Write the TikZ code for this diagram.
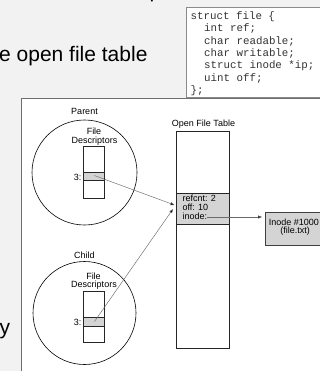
\documentclass[tikz,border=0pt]{standalone}
\usepackage{fontspec}
\setmainfont{Liberation Sans}
\newfontfamily\codefont{Liberation Mono}
\usetikzlibrary{arrows.meta}
\definecolor{bg}{HTML}{F2F2F2}
\definecolor{cellgray}{HTML}{D4D4D4}
\definecolor{panelline}{HTML}{6E6E6E}
\definecolor{codeline}{HTML}{8A8A8A}
\definecolor{linkgray}{HTML}{6A6A6A}
\tikzset{
  lbl/.style={font=\fontsize{9}{9}\selectfont, inner sep=0pt},
  big/.style={font=\fontsize{21}{21}\selectfont, inner sep=0pt},
  code/.style={font=\codefont\fontsize{10.8}{11}\selectfont, inner sep=0pt, text=black!80},
  thinbox/.style={draw=black!85, line width=0.6pt},
  link/.style={draw=linkgray, line width=0.45pt, -{Triangle[length=4pt,width=3pt,fill=black]}},
}
\begin{document}
\begin{tikzpicture}[x=1pt,y=-1pt]
\useasboundingbox (0,0) rectangle (320,371);
\clip (0,0) rectangle (320,371);
\fill[bg] (0,0) rectangle (320,371);
% slide text fragments
\node[big, anchor=base west] (ptxt) at (149.5,-2.6) {p};
\node[big, anchor=base west] (title) at (-1,62) {e open file table};
\node[big, anchor=base west] (ytxt) at (-0.5,334) {y};
% panel
\draw[panelline, line width=0.8pt, fill=white] (21,98) rectangle (335,385);
% struct box
\draw[codeline, line width=0.7pt, fill=white] (186.5,7.5) rectangle (335,97);
\node[code, anchor=base west] (c1) at (190.5,19.5) {struct file \{};
\node[code, anchor=base west] (c2) at (204,32) {int ref;};
\node[code, anchor=base west] (c3) at (204,44.3) {char readable;};
\node[code, anchor=base west] (c4) at (204,56.6) {char writable;};
\node[code, anchor=base west] (c5) at (204,68.9) {struct inode *ip;};
\node[code, anchor=base west] (c6) at (204,81.2) {uint off;};
\node[code, anchor=base west] (c7) at (190.5,93.5) {\};};
% parent
\draw[black, line width=0.6pt] (84.5,172.5) circle (52.5);
\node[lbl, anchor=base] (parent) at (84.5,115) {Parent};
\node[lbl, anchor=base] (pfile) at (94,134.5) {File};
\node[lbl, anchor=base] (pdesc) at (94.5,143.5) {Descriptors};
\draw[thinbox, fill=white] (83.3,146.7) rectangle (104.7,198.3);
\draw[thinbox, fill=cellgray] (83.3,172.3) rectangle (104.7,180.5);
\coordinate (pcell) at (94.3,175.5);
\node[lbl, anchor=base east] (p3) at (81.5,180) {3:};
% child
\draw[black, line width=0.6pt] (84.5,313) circle (51.5);
\node[lbl, anchor=base] (child) at (84.5,258) {Child};
\node[lbl, anchor=base] (cfile) at (93.5,279) {File};
\node[lbl, anchor=base] (cdesc) at (94,287.5) {Descriptors};
\draw[thinbox, fill=white] (83.3,291.7) rectangle (104.7,342.7);
\draw[thinbox, fill=cellgray] (83.3,317.3) rectangle (104.7,326);
\coordinate (ccell) at (94.5,321.5);
\node[lbl, anchor=base east] (c3l) at (81.5,325) {3:};
% open file table
\node[lbl, anchor=base] (oft) at (203.5,127) {Open File Table};
\draw[thinbox, fill=white] (176.7,131) rectangle (229.3,348.3);
\draw[thinbox, fill=cellgray] (176.7,193.2) rectangle (229.3,223.8);
\node[lbl, anchor=base west] (refcnt) at (182.3,201.8) {refcnt: 2};
\node[lbl, anchor=base west] (off) at (182.3,210.5) {off: 10};
\node[lbl, anchor=base west] (inode) at (182.3,219.2) {inode:};
\coordinate (pin) at (174.5,205);
\coordinate (cin) at (173,209);
% inode box
\draw[draw=black!75, line width=0.7pt, fill=cellgray] (265,212.7) rectangle (335,245);
\node[lbl, anchor=base] (inodenum) at (293.8,225.2) {Inode \#1000};
\node[lbl, anchor=base] (filetxt) at (295,233.5) {(file.txt)};
\coordinate (iin) at (262,217);
% links
\draw[link] (pcell) -- (pin);
\draw[link] (ccell) -- (cin);
\draw[link] (inode.base east |- 0,217) -- (iin);
\end{tikzpicture}
\end{document}
